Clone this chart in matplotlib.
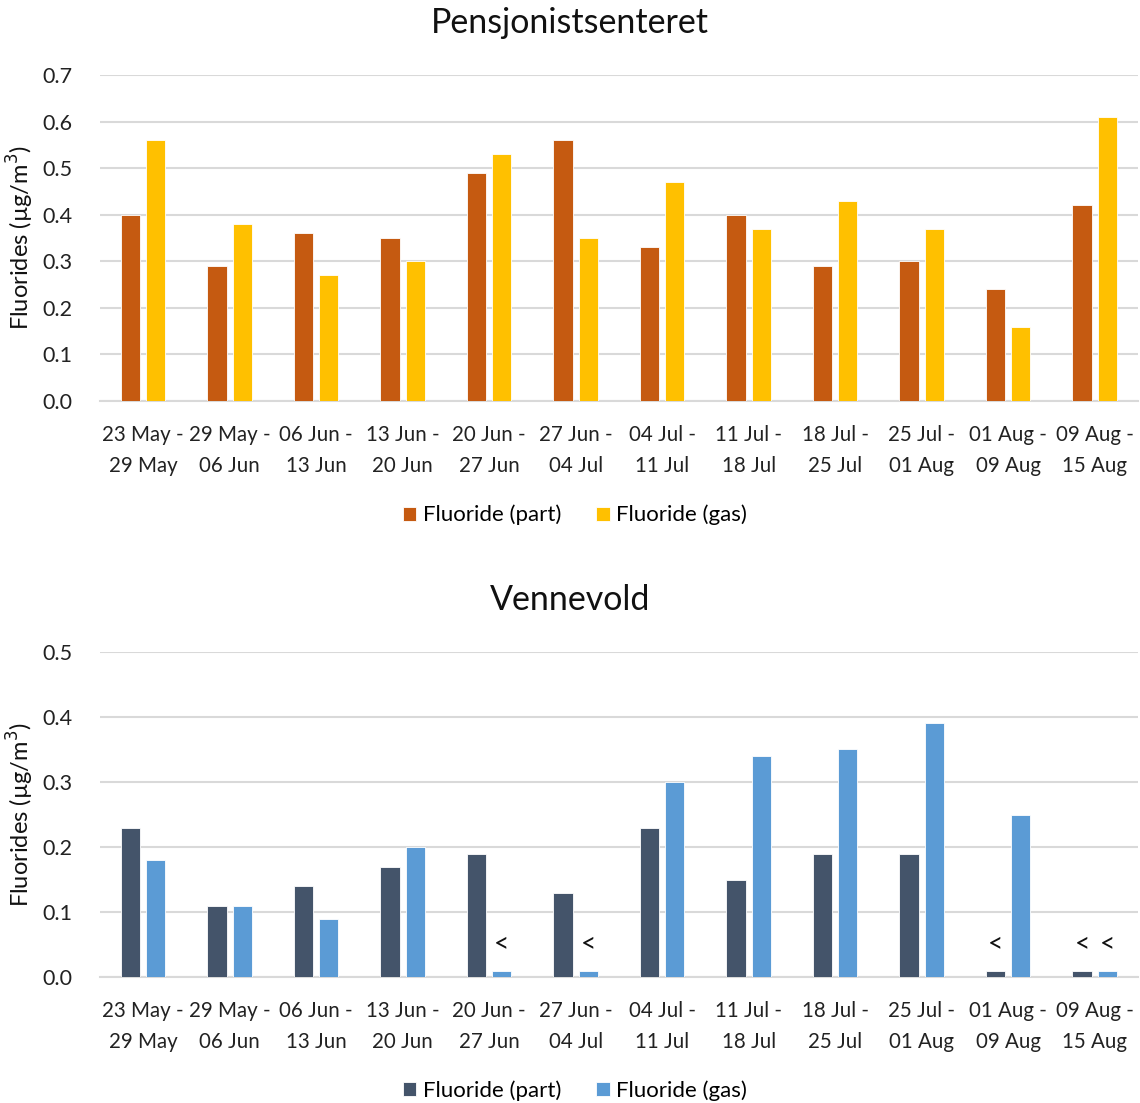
import matplotlib
matplotlib.use("Agg")
import matplotlib.pyplot as plt
import numpy as np

plt.rcParams['font.family'] = ['Lato', 'DejaVu Sans']

periods = ["23 May -\n29 May", "29 May -\n06 Jun", "06 Jun -\n13 Jun", "13 Jun -\n20 Jun",
           "20 Jun -\n27 Jun", "27 Jun -\n04 Jul", "04 Jul -\n11 Jul", "11 Jul -\n18 Jul",
           "18 Jul -\n25 Jul", "25 Jul -\n01 Aug", "01 Aug -\n09 Aug", "09 Aug -\n15 Aug"]

# Pensjonistsenteret
pens_part = [0.40, 0.29, 0.36, 0.35, 0.49, 0.56, 0.33, 0.40, 0.29, 0.30, 0.24, 0.42]
pens_gas = [0.56, 0.38, 0.27, 0.30, 0.53, 0.35, 0.47, 0.37, 0.43, 0.37, 0.16, 0.61]

# Vennevold
venn_part = [0.23, 0.11, 0.14, 0.17, 0.19, 0.13, 0.23, 0.15, 0.19, 0.19, 0.01, 0.01]
venn_gas = [0.18, 0.11, 0.09, 0.20, 0.01, 0.01, 0.30, 0.34, 0.35, 0.39, 0.25, 0.01]
# below detection limit flags
venn_part_lt = [False] * 10 + [True, True]
venn_gas_lt = [False, False, False, False, True, True, False, False, False, False, False, True]

series_names = ["Fluoride (part)", "Fluoride (gas)"]
ylabel = "Fluorides (µg/m$^3$)"

fig = plt.figure(figsize=(11.40, 11.03), dpi=100)

def draw(ax, part, gas, colors, ymax, title, part_lt=None, gas_lt=None):
    x = np.arange(len(periods))
    w = 0.225
    off = 0.145
    ax.bar(x - off, part, w, color=colors[0], edgecolor='white', linewidth=0.6,
           label=series_names[0], zorder=3)
    ax.bar(x + off, gas, w, color=colors[1], edgecolor='white', linewidth=0.6,
           label=series_names[1], zorder=3)
    ax.set_xlim(-0.5, len(periods) - 0.5)
    ax.set_ylim(0, ymax)
    ax.set_yticks(np.arange(0, ymax + 0.001, 0.1))
    ax.yaxis.set_major_formatter(matplotlib.ticker.FormatStrFormatter('%.1f'))
    ax.set_xticks(x)
    ax.set_xticklabels(periods, fontsize=14.8, linespacing=1.68)
    ax.tick_params(axis='both', length=0, colors='#222222')
    ax.tick_params(axis='y', pad=20, labelsize=15.5)
    ax.tick_params(axis='x', pad=17)
    ax.grid(axis='y', color='#D9D9D9', linewidth=1.5, zorder=0)
    for s in ['top', 'right', 'left']:
        ax.spines[s].set_visible(False)
    ax.spines['bottom'].set_color('#D9D9D9')
    ax.spines['bottom'].set_linewidth(1.5)
    ax.set_title(title, fontsize=24.5, x=0.453, pad=30, color='#111111')
    ax.set_ylabel(ylabel, fontsize=17, color='#111111')
    ax.yaxis.set_label_coords(-0.0617, 0.5)
    for flags, vals, xs in ((part_lt, part, x - off), (gas_lt, gas, x + off)):
        if flags is None:
            continue
        for f, v, xi in zip(flags, vals, xs):
            if f:
                ax.annotate("<", (xi, v), xytext=(0, 19), textcoords='offset points',
                            ha='center', va='center', fontsize=19, color='#111111')
    ax.legend(loc='center', bbox_to_anchor=(0.4576, -0.35), ncol=2, frameon=False,
              fontsize=16, handlelength=0.6, handleheight=0.6, handletextpad=0.3,
              columnspacing=1.6)

ax1 = fig.add_axes([0.0877, 0.6364, 0.9105, 0.2956])
draw(ax1, pens_part, pens_gas, ['#C55A11', '#FFC000'], 0.7, "Pensjonistsenteret")

ax2 = fig.add_axes([0.0877, 0.1142, 0.9105, 0.2947])
draw(ax2, venn_part, venn_gas, ['#44546A', '#5B9BD5'], 0.5, "Vennevold",
     venn_part_lt, venn_gas_lt)

fig.savefig("out.png", dpi=100)
